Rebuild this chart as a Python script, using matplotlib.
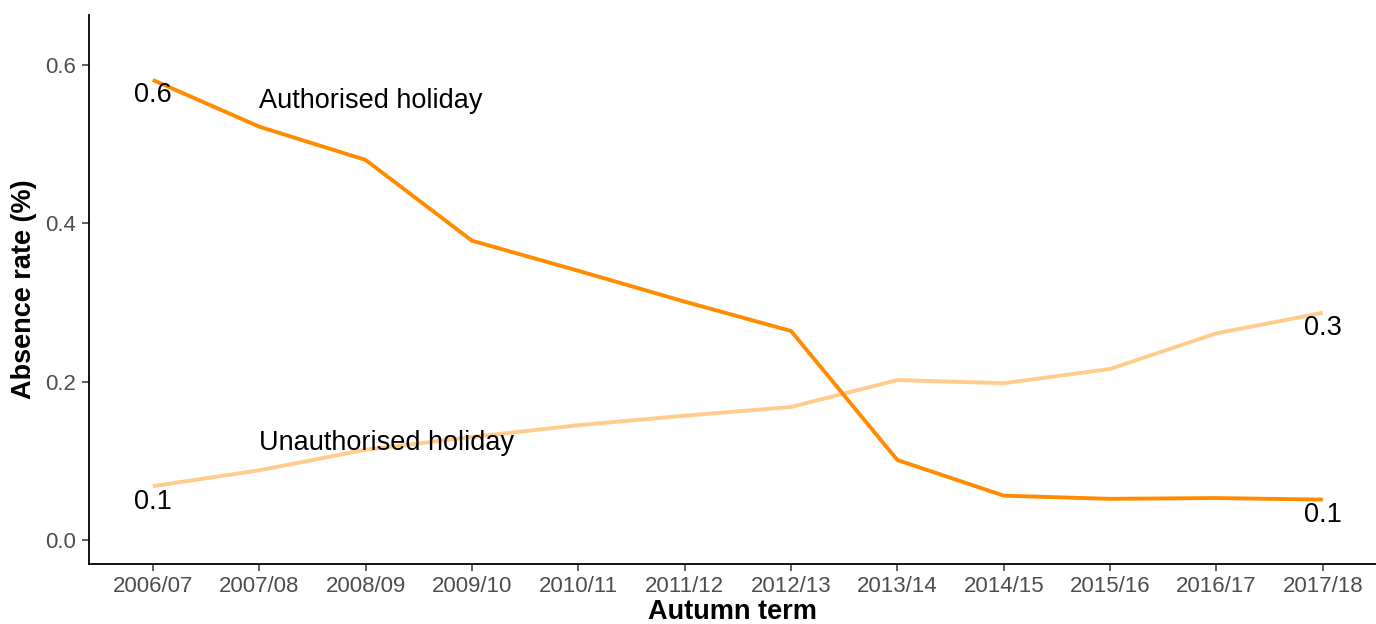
import numpy as np
import matplotlib
matplotlib.use("Agg")
import matplotlib.pyplot as plt

plt.rcParams['font.family'] = ['Liberation Sans', 'DejaVu Sans']

terms = ["2006/07", "2007/08", "2008/09", "2009/10", "2010/11", "2011/12",
         "2012/13", "2013/14", "2014/15", "2015/16", "2016/17", "2017/18"]
authorised = [0.581, 0.522, 0.480, 0.378, 0.340, 0.301,
              0.264, 0.101, 0.056, 0.052, 0.053, 0.051]
unauthorised = [0.068, 0.088, 0.114, 0.130, 0.145, 0.157,
                0.168, 0.202, 0.198, 0.216, 0.261, 0.287]

dark = "#FF8C00"
light = "#FFCC8C"

fig = plt.figure(figsize=(13.76, 6.24), dpi=100)
ax = fig.add_axes([89 / 1376, 60 / 624, 1 - 89 / 1376, (564 - 15) / 624])

x = np.arange(len(terms))
ax.plot(x, unauthorised, color=light, lw=2.8, solid_capstyle='butt')
ax.plot(x, authorised, color=dark, lw=2.8, solid_capstyle='butt')

# end labels
for series in (authorised, unauthorised):
    for i in (0, len(series) - 1):
        ax.text(x[i], series[i] - 0.003, f"{series[i]:.1f}", ha='center', va='top',
                fontsize=19.5, color='black')

ax.text(1, 0.555, "Authorised holiday", ha='left', va='center', fontsize=19.5)
ax.text(1, 0.123, "Unauthorised holiday", ha='left', va='center', fontsize=19.5)

ax.set_xlim(-0.6, 11.5)
ax.set_ylim(-0.0303, 0.663)
ax.set_xticks(x)
ax.set_xticklabels(terms)
ax.set_yticks([0.0, 0.2, 0.4, 0.6])
ax.set_yticklabels(["0.0", "0.2", "0.4", "0.6"])
ax.tick_params(labelsize=16, colors='#4D4D4D', length=5, width=1.1, pad=4)
ax.tick_params(axis='both', color='#333333')

for s in ('top', 'right'):
    ax.spines[s].set_visible(False)
for s in ('left', 'bottom'):
    ax.spines[s].set_linewidth(1.3)

ax.set_xlabel("Autumn term", fontsize=19.5, fontweight='bold', labelpad=1)
ax.set_ylabel("Absence rate (%)", fontsize=19.5, fontweight='bold', labelpad=6)

fig.savefig("out.png", dpi=100)
